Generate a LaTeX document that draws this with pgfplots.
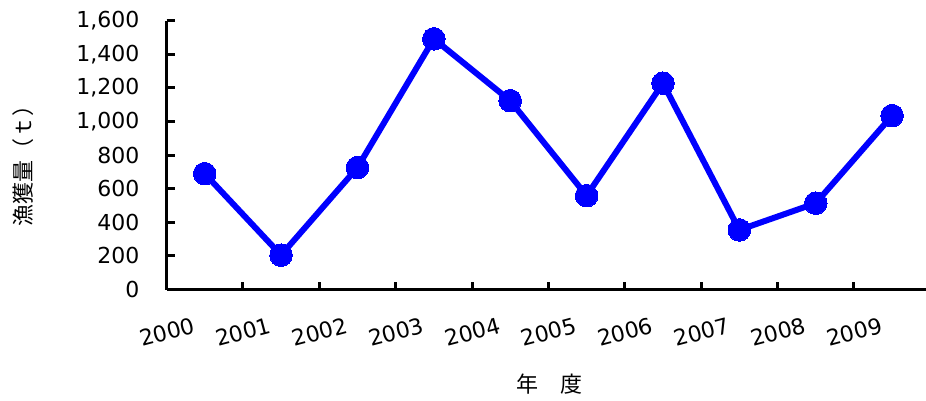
\documentclass[border=0pt]{standalone}
\usepackage{fontspec}
\usepackage{pgfplots}
\pgfplotsset{compat=1.18}
\setmainfont{DejaVu Sans}
\newfontfamily\jp{Noto Sans CJK JP}
\definecolor{serblue}{RGB}{0,0,255}
\begin{document}
\begin{tikzpicture}[x=1pt,y=1pt]
\begin{axis}[
  at={(166.5pt,111.4pt)}, anchor=south west,
  scale only axis, width=763.8pt, height=268.9pt,
  xmin=-0.5, xmax=9.5, ymin=0, ymax=1600,
  axis lines=left,
  axis line style={line width=3.5pt, -, black},
  tick align=inside,
  major tick length=8pt,
  tick style={line width=3pt, black},
  xtick={-0.5,0.5,1.5,2.5,3.5,4.5,5.5,6.5,7.5,8.5},
  xticklabels={2000,2001,2002,2003,2004,2005,2006,2007,2008,2009},
  ytick={0,200,400,600,800,1000,1200,1400,1600},
  /pgf/number format/assume math mode=true,
  /pgf/number format/1000 sep={,},
  ticklabel style={font=\fontsize{22}{26}\selectfont},
  xticklabel style={anchor=center, inner sep=0pt, xshift=0.5pt, yshift=-42.4pt, rotate=15},
  yticklabel style={anchor=east, inner sep=0pt, xshift=-27pt},
  clip=false,
]
\addplot[serblue, line width=6pt, mark=*, mark size=11.3pt, mark options={fill=serblue, draw=serblue, line width=0pt}]
coordinates {(0,690) (1,205) (2,726) (3,1492) (4,1124) (5,559) (6,1228) (7,355) (8,514) (9,1035)};
\end{axis}
\node[rotate=90, font=\jp\fontsize{22}{26}\selectfont] at (23,240) {漁獲量（ｔ）};
\node[font=\jp\fontsize{22}{26}\selectfont] at (549,17) {年　度};
\pgfresetboundingbox
\useasboundingbox (0,0) rectangle (926,401);
\end{tikzpicture}
\end{document}
